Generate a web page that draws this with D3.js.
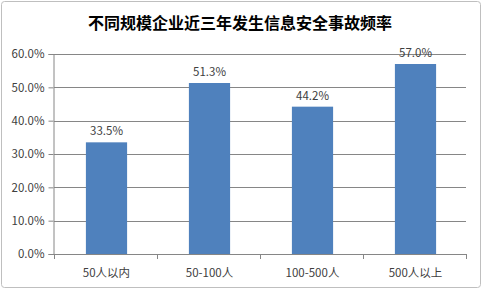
<!DOCTYPE html>
<html>
<head>
<meta charset="utf-8">
<script src="https://cdn.jsdelivr.net/npm/d3@7"></script>
<style>
  body { margin: 0; background: #fff; }
  text { font-family: "Noto Sans CJK SC", "DejaVu Sans", sans-serif; }
</style>
</head>
<body>
<div id="chart"></div>
<script>
"use strict";

const categories = ["50人以内", "50-100人", "100-500人", "500人以上"];
const values = [33.5, 51.3, 44.2, 57.0];
const yTicks = [0, 10, 20, 30, 40, 50, 60];
const title = "不同规模企业近三年发生信息安全事故频率";

const plot = {
    width: 482,
    height: 289,
    left: 54,
    right: 466,
    top: 54,
    bottom: 254
}

const svg = d3.select("#chart")
    .append("svg")
    .attr("width", plot.width)
    .attr("height", plot.height);

// outer frame
svg.append("rect")
    .attr("x", 1.5).attr("y", 1.5)
    .attr("width", plot.width - 3).attr("height", plot.height - 3)
    .attr("rx", 3)
    .attr("fill", "#fff")
    .attr("stroke", "#bfbfbf");

svg.append("text")
    .attr("x", 240)
    .attr("y", 29)
    .attr("text-anchor", "middle")
    .attr("font-size", "16px")
    .attr("font-weight", "bold")
    .attr("fill", "#000")
    .text(title);

const xScale = d3.scaleBand()
    .domain(categories)
    .range([plot.left, plot.right])
    .paddingInner(0.6)
    .paddingOuter(0.3);

const yScale = d3.scaleLinear()
    .domain([0, 60])
    .range([plot.bottom, plot.top]);

// gridlines
svg.append("g")
    .selectAll("line")
    .data(yTicks.filter(d => d > 0))
    .enter()
    .append("line")
    .attr("x1", plot.left)
    .attr("x2", plot.right)
    .attr("y1", d => Math.round(yScale(d)) + 0.5)
    .attr("y2", d => Math.round(yScale(d)) + 0.5)
    .attr("stroke", "#868686");

// y axis
const yAxis = d3.axisLeft(yScale)
    .tickValues(yTicks)
    .tickSize(5)
    .tickFormat(d => d.toFixed(1) + "%");
const gy = svg.append("g")
    .attr("transform", "translate(" + (plot.left - 0.5) + ",0)")
    .call(yAxis);
gy.select(".domain").attr("stroke", "#868686");
gy.selectAll(".tick line").attr("stroke", "#868686");
gy.selectAll(".tick text")
    .attr("x", -9)
    .attr("font-size", "11.5px")
    .attr("font-family", "\"Noto Sans CJK SC\", sans-serif")
    .attr("fill", "#404040");

// bars
svg.selectAll(".bar")
    .data(values)
    .enter()
    .append("rect")
    .attr("x", (d, i) => xScale(categories[i]) + 1)
    .attr("y", d => yScale(d))
    .attr("width", xScale.bandwidth())
    .attr("height", d => plot.bottom - yScale(d))
    .attr("fill", "#4f81bd");

// value labels
svg.selectAll(".lbl")
    .data(values)
    .enter()
    .append("text")
    .attr("x", (d, i) => xScale(categories[i]) + xScale.bandwidth() / 2 + 1)
    .attr("y", d => yScale(d) - 7)
    .attr("text-anchor", "middle")
    .attr("font-size", "11.5px")
    .attr("fill", "#404040")
    .text(d => d.toFixed(1) + "%");

// x axis with ticks between categories
const xAxisG = svg.append("g");
xAxisG.append("line")
    .attr("x1", plot.left).attr("x2", plot.right)
    .attr("y1", plot.bottom + 0.5).attr("y2", plot.bottom + 0.5)
    .attr("stroke", "#868686");
xAxisG.selectAll(".xt")
    .data(d3.range(categories.length + 1))
    .enter()
    .append("line")
    .attr("x1", i => plot.left + i * (plot.right - plot.left) / categories.length + 0.5)
    .attr("x2", i => plot.left + i * (plot.right - plot.left) / categories.length + 0.5)
    .attr("y1", plot.bottom)
    .attr("y2", plot.bottom + 5)
    .attr("stroke", "#868686");
xAxisG.selectAll(".xl")
    .data(categories)
    .enter()
    .append("text")
    .attr("x", d => xScale(d) + xScale.bandwidth() / 2 + 1)
    .attr("y", plot.bottom + 23)
    .attr("text-anchor", "middle")
    .attr("font-size", "11.5px")
    .attr("fill", "#404040")
    .text(d => d);
</script>
</body>
</html>
